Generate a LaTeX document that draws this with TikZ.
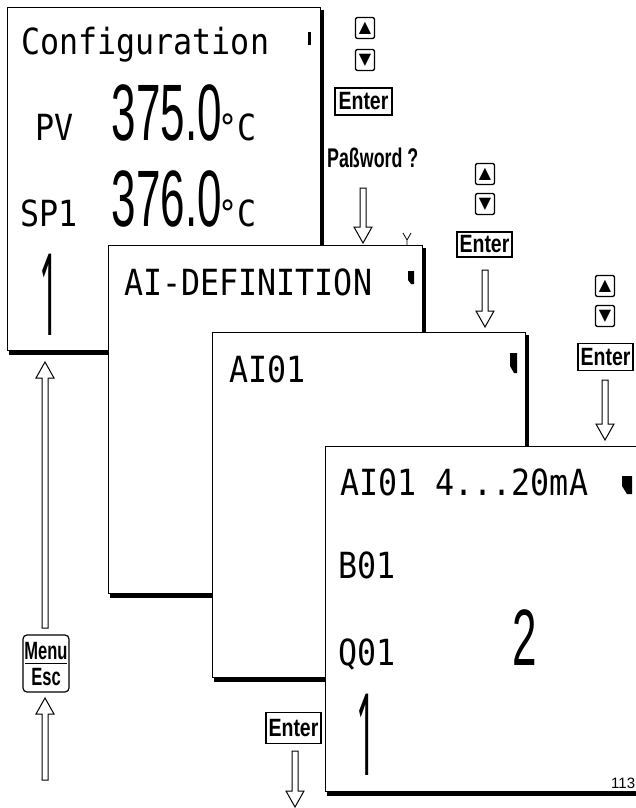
\documentclass[tikz,border=0pt]{standalone}
\usepackage{fontspec}
\usetikzlibrary{calc}
\newfontfamily\lcdfont[FakeStretch=0.88]{DejaVu Sans Mono}
\newfontfamily\segfont[FakeStretch=0.55]{Liberation Sans}
\newfontfamily\seglean[FakeStretch=0.3]{Noto Sans}
\newfontfamily\btnfont[FakeStretch=0.78]{Liberation Sans}
\newfontfamily\pwfont[FakeStretch=0.66]{Liberation Sans}
\newfontfamily\menufont[FakeStretch=0.66]{Liberation Sans}
\newfontfamily\symfont{DejaVu Sans}
\newfontfamily\numfont{Liberation Sans}
\newcommand\panelshadow[1]{%
  \fill ($(#1.north east)+(-1.5,3)$) rectangle ($(#1.south east)+(3,3.5)$);
  \fill ($(#1.south west)+(2,-1.5)$) rectangle ($(#1.south east)+(3,3.5)$);}
\newcommand\kbarrowdown[2]{\draw[hollow] let \p1=(#1), \p2=(#2) in
  (\x2-3pt,\y1) -- (\x2-3pt,\y2+16pt) -- (\x2-9pt,\y2+16pt) -- (\x2,\y2) --
  (\x2+9pt,\y2+16pt) -- (\x2+3pt,\y2+16pt) -- (\x2+3pt,\y1) -- cycle;}
\newcommand\kbarrowup[2]{\draw[hollow] let \p1=(#1), \p2=(#2) in
  (\x2-3pt,\y1) -- (\x2-3pt,\y2-16pt) -- (\x2-9pt,\y2-16pt) -- (\x2,\y2) --
  (\x2+9pt,\y2-16pt) -- (\x2+3pt,\y2-16pt) -- (\x2+3pt,\y1) -- cycle;}
\tikzset{
  panel/.style={draw, line width=1.2pt, fill=white, anchor=north west, inner sep=0pt},
  lcd/.style={font=\lcdfont\fontsize{36}{36}\selectfont, anchor=base west, inner sep=0pt},
  seg/.style={font=\segfont\fontsize{80}{80}\selectfont, inner sep=0pt},
  bigone/.style={font=\seglean\fontsize{114}{114}\selectfont, anchor=base, inner sep=0pt},
  enterkey/.style={draw, line width=1.3pt, inner sep=0pt, minimum width=55pt, minimum height=27pt,
    font=\btnfont\bfseries\fontsize{25}{25}\selectfont},
  arrowkey/.style={draw, line width=1.3pt, rounded corners=2pt, minimum width=19pt, minimum height=21pt,
    inner sep=0pt, font=\symfont\fontsize{16}{16}\selectfont},
  hollow/.style={draw, line width=1pt, fill=white, line join=miter},
  scrollmark/.style={fill=black},
  menutext/.style={font=\menufont\bfseries\fontsize{25}{25}\selectfont, inner sep=0pt}
}
\begin{document}
\begin{tikzpicture}[x=1pt,y=-1pt]
\useasboundingbox (0,0) rectangle (635,808);
\fill[white] (0,0) rectangle (635,808);

% Panel 1
\node[panel, minimum width=313pt, minimum height=343pt] (p1) at (7,7) {};
\panelshadow{p1}
\node[lcd] (cfg) at (21,55) {Configuration};
\fill[scrollmark] (308,32) rectangle (311,45);
\node[lcd] (pv) at (35,140) {PV};
\node[seg, anchor=base east] (pvval) at (222,140) {375.0};
\node[lcd] (pvunit) at (218,140) {°C};
\node[lcd] (sp) at (20,226) {SP1};
\node[seg, anchor=base east] (spval) at (222,226) {376.0};
\node[lcd] (spunit) at (218,226) {°C};
\node[bigone] (one1) at (49.3,335) {1};

% Panel 2
\node[panel, minimum width=314pt, minimum height=348pt] (p2) at (108,245) {};
\panelshadow{p2}
\node[lcd] (aidef) at (124,295) {AI-DEFINITION};
\fill[scrollmark] (408,271) -- (414,271) -- (414,284) -- (411,284) -- (408,280) -- cycle;
\draw[line width=0.8pt] (403,233) -- (407,240) -- (411,233) (407,240) -- (407,245);

% Panel 3
\node[panel, minimum width=313pt, minimum height=345pt] (p3) at (212,332) {};
\panelshadow{p3}
\node[lcd] (ai01a) at (229,382) {AI01};
\fill[scrollmark] (510,353) -- (517,353) -- (517,373) -- (514,373) -- (510,366) -- cycle;

% Panel 4
\node[panel, minimum width=330pt, minimum height=345pt] (p4) at (325,446) {};
\panelshadow{p4}
\node[lcd] (ai01b) at (340,495) {AI01 4...20mA};
\fill[scrollmark] (622,476) -- (632,476) -- (632,494) -- (627,494) -- (622,486) -- cycle;
\node[lcd] (b01) at (338,578) {B01};
\node[lcd] (q01) at (338,665) {Q01};
\node[seg, anchor=base] (two) at (525,665) {2};
\node[bigone] (one2) at (366.3,775) {1};
\node[font=\numfont\fontsize{15}{15}\selectfont, anchor=base west, inner sep=0pt] (fig) at (611,788) {113};

% Key group 1
\node[arrowkey] (up1) at (365,28) {▲};
\node[arrowkey] (dn1) at (365,60) {▼};
\node[enterkey, minimum width=57pt] (ent1) at (363.5,101.5) {Enter};
\node[font=\pwfont\bfseries\fontsize{27}{27}\selectfont, anchor=base west, inner sep=0pt] (pw) at (327,167) {Paßword ?};
\coordinate (a1t) at (363,188);
\coordinate (a1h) at (363,243);
\kbarrowdown{a1t}{a1h}

% Key group 2
\node[arrowkey] (up2) at (485,174) {▲};
\node[arrowkey] (dn2) at (485,204) {▼};
\node[enterkey, minimum height=25pt] (ent2) at (484.5,244.5) {Enter};
\coordinate (a2t) at (485,270);
\coordinate (a2h) at (485,327);
\kbarrowdown{a2t}{a2h}

% Key group 3
\node[arrowkey] (up3) at (605,286) {▲};
\node[arrowkey] (dn3) at (605,316) {▼};
\node[enterkey, minimum height=27pt] (ent3) at (605.5,357) {Enter};
\coordinate (a3t) at (605,380);
\coordinate (a3h) at (605,440);
\kbarrowdown{a3t}{a3h}

% Bottom Enter
\node[enterkey, minimum height=31pt] (ent4) at (293.5,728) {Enter};
\coordinate (a4t) at (295,751);
\coordinate (a4h) at (295,807);
\kbarrowdown{a4t}{a4h}

% Menu / Esc
\node[draw, rounded corners=4pt, line width=1.2pt, minimum width=46pt, minimum height=57pt, inner sep=0pt] (menubox) at (46,663.5) {};
\node[menutext] (menu) at (46,651) {Menu};
\node[menutext] (esc) at (46,677) {Esc};
\draw[line width=1pt] ($(menubox.west)+(3,0)$) -- ($(menubox.east)+(-3,0)$);
\coordinate (a5t) at (45,628);
\coordinate (a5h) at (45,362);
\kbarrowup{a5t}{a5h}
\coordinate (a6t) at (45,780);
\coordinate (a6h) at (45,698);
\kbarrowup{a6t}{a6h}
\end{tikzpicture}
\end{document}
